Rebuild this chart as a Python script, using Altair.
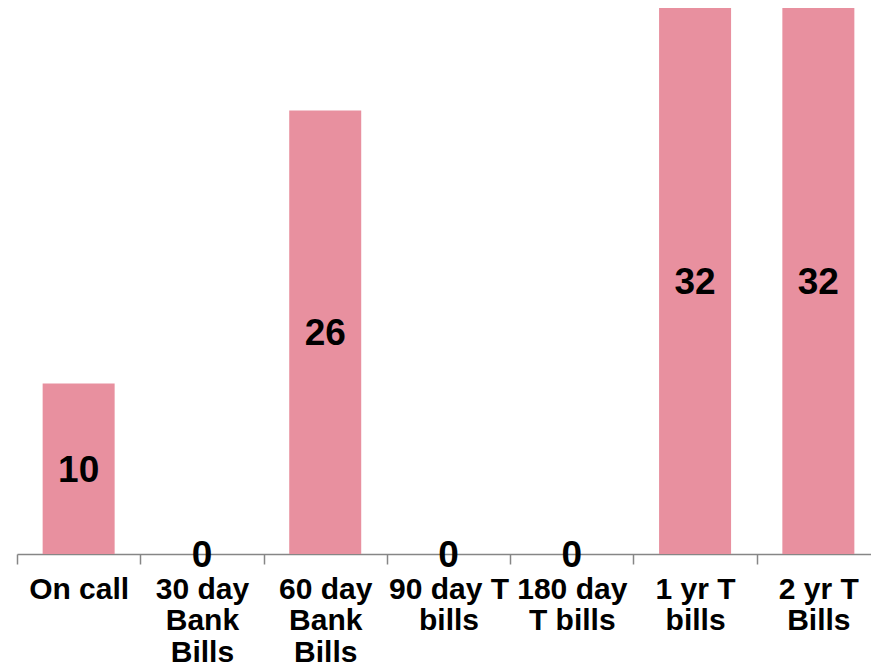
import altair as alt
import pandas as pd

categories = ["On call", "30 day\nBank\nBills", "60 day\nBank\nBills", "90 day T\nbills",
              "180 day\nT bills", "1 yr T\nbills", "2 yr T\nBills"]
values = [10, 0, 26, 0, 0, 32, 32]

df = pd.DataFrame({"cat": categories, "val": values})

x = alt.X("cat:N", sort=categories, title=None,
          scale=alt.Scale(paddingInner=0, paddingOuter=0),
          axis=alt.Axis(labelExpr="split(datum.label, '\\n')", labelAngle=0,
                        labelFont="Liberation Sans", labelFontWeight="bold",
                        labelFontSize=30, labelLineHeight=31.5, labelColor="black",
                        labelPadding=10, tickBand="extent", tickSize=10,
                        tickColor="#868686", tickWidth=1.5, domainColor="#868686",
                        domainWidth=1.5, labelBaseline="top"))
y = alt.Y("val:Q", scale=alt.Scale(domain=[0, 32], nice=False, zero=True), axis=None)

bars = alt.Chart(df).mark_bar(color="#E8909F", width=alt.RelativeBandSize(0.584)).encode(x=x, y=y)

texts = alt.Chart(df).transform_calculate(mid="datum.val / 2").mark_text(
    font="Liberation Sans", fontWeight="bold", fontSize=37, color="black",
    baseline="middle", align="center", dy=2
).encode(x=alt.X("cat:N", sort=categories), y=alt.Y("mid:Q"), text="val:Q")

chart = alt.layer(bars, texts).properties(
    width=863, height=546,
    autosize=alt.AutoSizeParams(type="none"),
    padding={"left": 9, "top": 0, "right": -9, "bottom": 109},
).configure_view(stroke=None)

chart.save("out.html", embed_options={"renderer": "svg", "actions": False})
